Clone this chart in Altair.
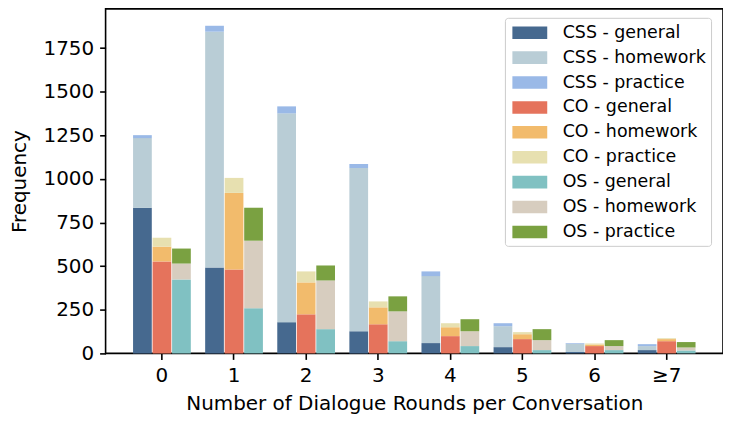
import pandas as pd
import altair as alt

# Rounds per conversation (x categories)
rounds = ["0", "1", "2", "3", "4", "5", "6", "≥7"]
sources = ["CSS", "CO", "OS"]
kinds = ["general", "homework", "practice"]

# Segment heights (not cumulative)
css_general = [835, 492, 179, 127, 59, 36, 8, 19]
css_homework = [399, 1352, 1197, 936, 384, 120, 47, 23]
css_practice = [17, 34, 40, 22, 27, 17, 4, 11]
co_general = [527, 481, 224, 167, 99, 82, 42, 70]
co_homework = [85, 439, 183, 97, 51, 28, 9, 12]
co_practice = [51, 86, 63, 34, 23, 12, 6, 5]
os_general = [424, 259, 139, 70, 42, 19, 19, 17]
os_homework = [91, 387, 279, 171, 85, 57, 23, 17]
os_practice = [86, 189, 86, 86, 69, 63, 34, 31]

series = {
    ("CSS", "general"): css_general,
    ("CSS", "homework"): css_homework,
    ("CSS", "practice"): css_practice,
    ("CO", "general"): co_general,
    ("CO", "homework"): co_homework,
    ("CO", "practice"): co_practice,
    ("OS", "general"): os_general,
    ("OS", "homework"): os_homework,
    ("OS", "practice"): os_practice,
}

colors = ["#46698f", "#b9cdd6", "#9ab9e7",
          "#e5735c", "#f2bb6c", "#e7e0b0",
          "#80c1c2", "#d7cdbf", "#7aa141"]

rows = []
for (src, kind), vals in series.items():
    for r, v in zip(rounds, vals):
        rows.append({"round": r, "source": src, "series": f"{src} - {kind}",
                     "k": kinds.index(kind), "value": v})
df = pd.DataFrame(rows)
labels = [f"{s} - {k}" for s in sources for k in kinds]

font = "DejaVu Sans"

chart = alt.Chart(df).mark_bar().encode(
    x=alt.X("round:O", sort=rounds,
            scale=alt.Scale(paddingInner=0.199, paddingOuter=0.381),
            axis=alt.Axis(title="Number of Dialogue Rounds per Conversation", labelAngle=0)),
    xOffset=alt.XOffset("source:N", sort=sources, scale=alt.Scale(paddingInner=0.04)),
    y=alt.Y("value:Q", stack="zero",
            scale=alt.Scale(domain=[0, 1975], nice=False),
            axis=alt.Axis(title="Frequency", format="d", titlePadding=14,
                          values=[0, 250, 500, 750, 1000, 1250, 1500, 1750])),
    color=alt.Color("series:N", scale=alt.Scale(domain=labels, range=colors),
                    legend=alt.Legend(title=None, orient="none", legendX=401, legendY=9)),
    order=alt.Order("k:Q"),
).properties(
    width=620, height=346,
    padding={"left": 1, "top": 0, "right": 0, "bottom": 0},
).configure_view(
    stroke="#000000", strokeWidth=1.6
).configure_axis(
    domain=False, grid=False,
    tickColor="#000000", tickWidth=1.6, tickSize=6,
    labelFont=font, labelFontSize=20, labelColor="#000000", labelPadding=6,
    titleFont=font, titleFontSize=20, titleColor="#000000", titleFontWeight="normal",
    titlePadding=8,
).configure_legend(
    labelFont=font, labelFontSize=17.5, labelColor="#000000",
    symbolType="M-1.75,-0.63H1.75V0.63H-1.75Z", symbolSize=400,
    symbolStrokeWidth=0, symbolOpacity=1,
    symbolOffset=10, labelOffset=23, rowPadding=6, padding=5,
    strokeColor="#cccccc", fillColor="#ffffff", cornerRadius=3,
)

chart.save("out.html", embed_options={"renderer": "svg", "actions": False})
